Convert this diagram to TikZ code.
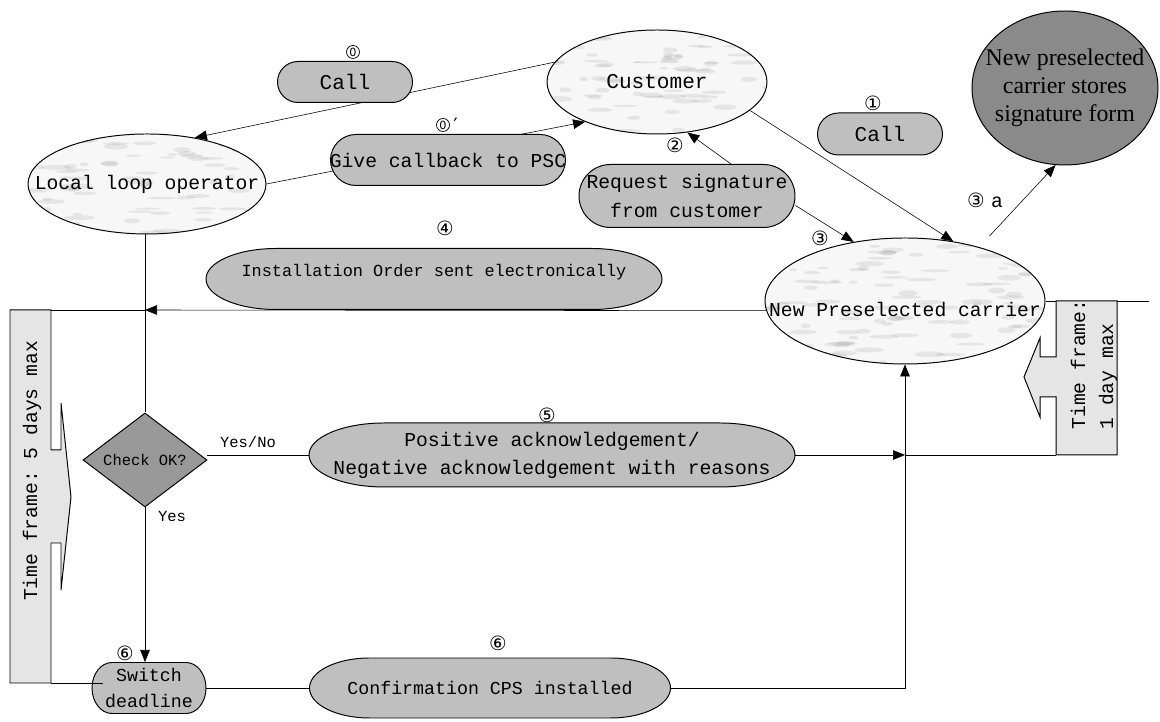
\documentclass[tikz,border=0pt]{standalone}
\usepackage{fontspec}
\setmainfont{Liberation Serif}
\setmonofont{Liberation Mono}
\newfontfamily\circfont{DejaVu Sans}
\usetikzlibrary{positioning,arrows.meta,shapes.geometric,calc}

\newcommand{\px}{0.025cm}
% capsule: [node options]{name}{centre}{half width}{half height}{end radius}{text}
\newcommand{\capsule}[7][]{%
  \path #3 coordinate (#2-c);
  \filldraw[capfill] ($(#2-c)+(-#4+#6,#5)$) -- ($(#2-c)+(#4-#6,#5)$)
    arc[start angle=90, end angle=-90, x radius=#6, y radius=#5]
    -- ($(#2-c)+(-#4+#6,-#5)$)
    arc[start angle=270, end angle=90, x radius=#6, y radius=#5] -- cycle;
  \node[inner sep=0, minimum width=2*#4*\px, minimum height=2*#5*\px, #1] (#2) at (#2-c) {#7};
}
\pgfdeclarelayer{bg}
\pgfsetlayers{bg,main}
\pgfmathsetseed{11}

\begin{document}
\begin{tikzpicture}[
    x=\px, y=\px,
    line width=0.7pt,
    arr/.style={-{Triangle[length=3mm, width=2.4mm]}},
    capfill/.style={draw, fill=black!25},
    tfbox/.style={draw, fill=black!10},
    big/.style={font=\ttfamily\fontsize{15}{19}\selectfont},
    mid/.style={font=\ttfamily\fontsize{14}{20}\selectfont},
    low/.style={font=\ttfamily\fontsize{13}{18}\selectfont},
    inst/.style={font=\ttfamily\fontsize{12}{15}\selectfont},
    tiny/.style={font=\ttfamily\fontsize{11}{13}\selectfont},
    num/.style={font=\circfont\fontsize{14}{16}\selectfont, inner sep=0},
    zero/.style={circle, draw, line width=0.5pt, inner sep=0, minimum size=13*\px,
      font=\circfont\fontsize{8}{9}\selectfont},
    marble/.style={ellipse, draw, fill=black!3, inner sep=0,
      path picture={
        \foreach \k in {1,...,130}{
          \pgfmathsetmacro\dx{rand*140}
          \pgfmathsetmacro\dy{rand*70}
          \pgfmathsetmacro\rx{4+rnd*12}
          \pgfmathsetmacro\ry{1+rnd*2}
          \pgfmathsetmacro\ang{30+rand*35}
          \path ([shift={(\dx,\dy)}]path picture bounding box.center) coordinate (mp);
          \fill[black!55, opacity=0.13, rotate around={\ang:(mp)}] (mp) ellipse[x radius=\rx, y radius=\ry];
        }}},
]
\useasboundingbox (0,0) rectangle (1160,722);

% parties
\node[marble, minimum width=220*\px, minimum height=104*\px,
  label={[big]center:Customer}] (customer) at (657,640) {};
\node[marble, minimum width=238*\px, minimum height=100*\px,
  label={[mid]center:Local loop operator}] (local) at (147,538) {};
\node[marble, minimum width=280*\px, minimum height=126*\px,
  label={[mid, yshift=-9*\px]center:New Preselected carrier}] (npc) at (905,421) {};
\node[ellipse, draw, fill=black!46, minimum width=186*\px, minimum height=154*\px] (store) at (1065,634) {};
\node[align=center, font=\fontsize{17}{20}\selectfont] (storetext) at (store) {New preselected\\carrier stores\\signature form};

% messages
\capsule[big]{call0}{(345,640)}{67.5}{20.5}{20.5}{Call}
\capsule[mid]{give}{(448,562)}{117.5}{25.5}{25.5}{Give callback to PSC}
\capsule[big]{call1}{(880,588)}{62.5}{21}{21}{Call}
\capsule[mid, align=center]{request}{(687,526)}{108}{31.5}{31.5}{Request signature\\from customer}
\capsule[inst, yshift=7*\px]{install}{(434,443)}{228}{30.5}{70}{Installation Order sent electronically}
\capsule[mid, align=center]{positive}{(552,267)}{243}{32}{75}{Positive acknowledgement/\\Negative acknowledgement with reasons}
\capsule[low]{confirm}{(490,34)}{180.5}{30}{60}{Confirmation CPS installed}
\capsule[low, align=center]{switch}{(149,34)}{57}{25.5}{20}{Switch\\deadline}

\node[diamond, draw, fill=black!40, minimum width=124*\px, minimum height=94*\px,
  aspect=1.32, inner sep=0, tiny] (check) at (145,262) {Check OK?};

% step numbers
\node[zero] (n0) at (353,670) {0};
\node[zero] (n0p) at (443,597) {0};
\node[num, right=3*\px of n0p] (prime) {′};
\node[num] (n1) at (873,619) {①};
\node[num] (n2) at (675,577) {②};
\node[num] (n3) at (820,484) {③};
\node[num] (n3a) at (985,522) {③ {\ttfamily\fontsize{14}{16}\selectfont a}};
\node[num] (n4) at (445,494) {④};
\node[num] (n5) at (547,307) {⑤};
\node[num] (n6a) at (125,69) {⑥};
\node[num] (n6b) at (498,79) {⑥};
\node[tiny] (yesno) at (248,280) {Yes/No};
\node[tiny] (yes) at (172,206) {Yes};

% time frames
\filldraw[tfbox] (10,412) -- (51,412) -- (51,272) -- (61,272) -- (61,319) -- (71,225)
  -- (61,132) -- (61,179) -- (51,179) -- (51,39) -- (10,39) -- cycle;
\node[mid, rotate=90] (tf5) at (32,251) {Time frame: 5 days max};
\filldraw[tfbox] (1056,421) -- (1117,421) -- (1117,267) -- (1056,267) -- (1056,325)
  -- (1040,325) -- (1040,305) -- (1024,345) -- (1040,384) -- (1040,365) -- (1056,365) -- cycle;
\node[mid, rotate=90, anchor=west, align=left, inner sep=0] (tf1) at (1094,292) {Time frame:\\1 day max};

\coordinate (j4) at (145,412);
\coordinate (j5) at (905,267);
\coordinate (tf1c) at (1056,267);
\coordinate (rend) at (1149,421);
\coordinate (tf5c) at (51,39);

% connectors
\begin{pgfonlayer}{bg}
\draw[arr] (customer.169) -- (local.44);
\draw[arr] (local.east) -- (customer.209);
\draw[arr] (customer.-17) -- (npc.51);
\draw[arr] (request.36) -- (customer.-59);
\draw[arr] (request.-5) -- (npc.131);
\draw[arr, shorten <=15*\px] (npc.36) -- (store.263);
\draw[arr] (npc.184) -- (j4);
\draw (j4) -- (10,412);
\draw (npc.east) -- (rend);
\draw (local.south -| check.north) -- (check.north);
\draw (positive.west) -- (positive.west -| check.east);
\draw[arr] (positive.east) -- (j5);
\draw (j5) -- (tf1c);
\draw[arr] (check.south) -- (check.south |- switch.north);
\draw (switch.east) -- (confirm.west);
\draw[arr] (confirm.east) -| (npc.south);
\end{pgfonlayer}
\draw (tf5c) -- ++(52,0);
\end{tikzpicture}
\end{document}
